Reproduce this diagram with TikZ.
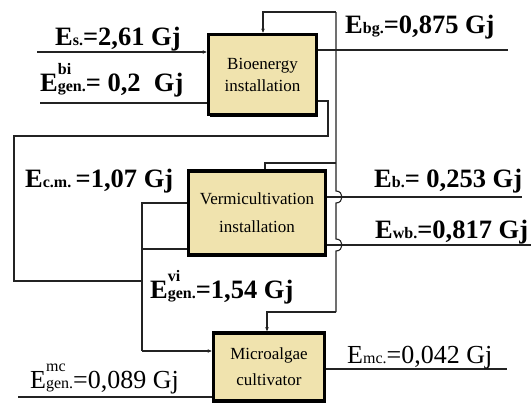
\documentclass[tikz,border=0pt]{standalone}
\usepackage{fontspec}
\setmainfont{Liberation Serif}
\usetikzlibrary{arrows.meta,shadows}
\definecolor{boxfill}{RGB}{240,227,174}
\definecolor{linec}{RGB}{35,35,35}
\newcommand{\En}[3]{E\rlap{\raisebox{17pt}{\fontsize{16}{16}\selectfont #1}}{\fontsize{16}{16}\selectfont #2}#3}
\begin{document}
\begin{tikzpicture}[x=1pt,y=-1pt,
  box/.style={draw=black, line width=3.5pt, fill=boxfill, align=center, inner sep=0pt,
    font=\fontsize{17}{22}\selectfont,
    drop shadow={shadow xshift=1.2pt, shadow yshift=-2.2pt, fill=black, opacity=1}},
  wire/.style={draw=linec, line width=1.1pt},
  tip/.style={-{Stealth[length=4pt,width=3.5pt]}},
  lbl/.style={anchor=base west, inner sep=0pt, font=\fontsize{26.5}{26}\selectfont\bfseries},
  lblr/.style={anchor=base west, inner sep=0pt, font=\fontsize{26}{26}\selectfont}]
\useasboundingbox (0,0) rectangle (531,405);

% boxes
\node[box, minimum width=108pt, minimum height=80pt] (bio) at (262.5,74.5) {Bioenergy\\installation};
\node[box, minimum width=137pt, minimum height=84pt, font=\fontsize{17}{28}\selectfont] (verm) at (257,213) {Vermicultivation\\installation};
\node[box, minimum width=111pt, minimum height=68pt, font=\fontsize{17}{26}\selectfont] (micro) at (269,367) {Microalgae\\cultivator};

% coordinates
\coordinate (s0) at (37,52);
\coordinate (bi0) at (40,103);
\coordinate (t1) at (263,12);
\coordinate (t2) at (336,12);
\coordinate (bg1) at (508,50);
\coordinate (h1) at (336,191);
\coordinate (h2) at (336,203);
\coordinate (h3) at (336,239);
\coordinate (h4) at (336,251);
\coordinate (vb) at (336,312);
\coordinate (vm) at (336,163);
\coordinate (r1) at (328,101);
\coordinate (r2) at (328,136);
\coordinate (l1) at (14,136);
\coordinate (l2) at (14,281);
\coordinate (l3) at (142,281);
\coordinate (m1) at (142,203);
\coordinate (m2) at (142,249);
\coordinate (m3) at (142,351);
\coordinate (b1) at (522,197);
\coordinate (wb1) at (531,245);
\coordinate (mc1) at (507,369);
\coordinate (gm0) at (18,397);

% connectors
\draw[wire, tip] (s0) -- (bio.west |- s0);
\draw[wire] (bi0) -- (bio.west |- bi0);
\draw[wire, tip] (t2) -- (t1) -- (bio.north -| t1);
\draw[wire] (bio.east |- bg1) -- (bg1);
\draw[wire] (t2) -- (h1) .. controls (344,191) and (344,203) .. (h2) -- (h3)
  .. controls (344,239) and (344,251) .. (h4) -- (vb);
\draw[wire] (vm) -- (265,163) -- (verm.north -| 265,0);
\draw[wire, tip] (vb) -- (267,312) -- (micro.north -| 267,0);
\draw[wire] (bio.east |- r1) -- (r1) -- (r2) -- (l1) -- (l2) -- (l3);
\draw[wire] (verm.west |- m1) -- (m1) -- (m3);
\draw[wire] (m2) -- (verm.west |- m2);
\draw[wire, tip] (m3) -- (micro.west |- m3);
\draw[wire] (verm.east |- b1) -- (b1);
\draw[wire] (verm.east |- wb1) -- (wb1);
\draw[wire] (micro.east |- mc1) -- (mc1);
\draw[wire] (gm0) -- (micro.west |- gm0);

% labels
\node[lbl] (ls) at (55,45) {\En{}{s.}{=2,61 Gj}};
\node[lbl] (lbi) at (40,91) {\En{bi}{gen.}{= 0,2\ \ Gj}};
\node[lbl] (lbg) at (345,33) {\En{}{bg.}{=0,875 Gj}};
\node[lbl] (lcm) at (25,187) {\En{}{c.m.}{\,=1,07 Gj}};
\node[lbl] (lb) at (374,187) {\En{}{b.}{= 0,253 Gj}};
\node[lbl] (lwb) at (375,238) {\En{}{wb.}{=0,817 Gj}};
\node[lbl] (lvi) at (150,298) {\En{vi}{gen.}{=1,54 Gj}};
\node[lblr] (lmc) at (347,363) {\En{}{mc.}{=0,042 Gj}};
\node[lblr] (lgm) at (30,388) {\En{mc}{gen.}{=0,089 Gj}};
\end{tikzpicture}
\end{document}
